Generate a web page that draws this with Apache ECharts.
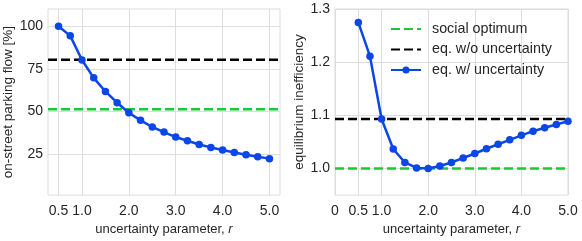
<!DOCTYPE html>
<html>
<head>
<meta charset="utf-8">
<script src="https://cdn.jsdelivr.net/npm/echarts@6/dist/echarts.min.js"></script>
<style>
html,body{margin:0;padding:0;background:#fff;}
#c{width:582px;height:241px;}
</style>
</head>
<body>
<div id="c"></div>
<script>
const r = [0.5,0.75,1.0,1.25,1.5,1.75,2.0,2.25,2.5,2.75,3.0,3.25,3.5,3.75,4.0,4.25,4.5,4.75,5.0];
const flowUncertain = [100,94.4,80.2,69.7,61.7,55.1,49.2,44.7,40.8,37.8,34.9,32.7,30.5,28.8,27.3,25.8,24.5,23.3,22.2];
const flowNoUncertain = 80.3;
const flowSocial = 51.2;
const ineffUncertain = [1.2748,1.2112,1.093,1.0366,1.0114,1.0012,1.0,1.0048,1.0114,1.0198,1.0282,1.0372,1.0456,1.054,1.0624,1.0702,1.0768,1.0828,1.0888];
const ineffNoUncertain = 1.093;
const ineffSocial = 1.0;
const leftXTicks = [0.5,1,2,3,4,5];
const rightXTicks = [0,0.5,1,2,3,4,5];
const leftYTicks = [25,50,75,100];
const rightYTicks = [1.0,1.1,1.2,1.3];
const names = ['social optimum','eq. w/o uncertainty','eq. w/ uncertainty'];

const LX = [0.275, 5.225], LY = [0.75, 110.2];
const RX = [0, 5], RY = [0.95, 1.3];

const FONT = 'Liberation Sans, Arial, sans-serif';
const gridColor = '#dddddd';
const textColor = '#262626';
const blue = '#0b47e6', green = '#1ac938', black = '#000000';

function xAxis(idx, ext, ticks) {
  return {
    type: 'value', gridIndex: idx, min: ext[0], max: ext[1],
    name: 'uncertainty parameter, {i|r}', nameLocation: 'middle', nameGap: 24,
    nameTextStyle: {fontFamily: FONT, fontSize: 13, color: textColor,
      rich: {i: {fontStyle: 'italic', fontFamily: FONT, fontSize: 13, color: textColor}}},
    axisLine: {show: false}, axisTick: {show: false, customValues: ticks},
    axisLabel: {customValues: ticks, fontFamily: FONT, fontSize: 14, color: textColor, margin: 9,
      formatter: v => (v === 0 ? '0' : v.toFixed(1)), hideOverlap: false},
    splitLine: {show: true, lineStyle: {color: gridColor, width: 1}}
  };
}
function yAxis(idx, ext, ticks, name, gap, fmt) {
  return {
    type: 'value', gridIndex: idx, min: ext[0], max: ext[1],
    name: name, nameLocation: 'middle', nameGap: gap, nameRotate: 90,
    nameTextStyle: {fontFamily: FONT, fontSize: 13.5, color: textColor},
    axisLine: {show: false}, axisTick: {show: false, customValues: ticks},
    axisLabel: {customValues: ticks, fontFamily: FONT, fontSize: 14, color: textColor, margin: 5,
      formatter: fmt, hideOverlap: false},
    splitLine: {show: true, lineStyle: {color: gridColor, width: 1}}
  };
}
function hline(name, xi, ext, y, color) {
  return {
    name: name, type: 'line', xAxisIndex: xi, yAxisIndex: xi,
    data: [[ext[0], y], [ext[1], y]], showSymbol: false, symbol: 'none',
    lineStyle: {color: color, width: 2.5, type: [9, 4]}, itemStyle: {color: color},
    silent: true, animation: false, z: 3
  };
}
function curve(name, xi, ys) {
  return {
    name: name, type: 'line', xAxisIndex: xi, yAxisIndex: xi,
    data: r.map((x, i) => [x, ys[i]]), symbol: 'circle', symbolSize: 7.5,
    lineStyle: {color: blue, width: 2.5}, itemStyle: {color: blue},
    clip: true, animation: false, z: 4
  };
}

const chart = echarts.init(document.getElementById('c'), null, {renderer: 'canvas'});
chart.setOption({
  animation: false,
  backgroundColor: '#fff',
  grid: [
    {left: 48, right: 302, top: 9, bottom: 38, show: true, borderColor: gridColor, borderWidth: 1},
    {left: 335, right: 14, top: 9, bottom: 38, show: true, borderColor: gridColor, borderWidth: 1}
  ],
  xAxis: [xAxis(0, LX, leftXTicks), xAxis(1, RX, rightXTicks)],
  yAxis: [
    yAxis(0, LY, leftYTicks, 'on-street parking flow [%]', 31, v => String(Math.round(v))),
    yAxis(1, RY, rightYTicks, 'equilibrium inefficiency', 22, v => v.toFixed(1))
  ],
  legend: {
    left: 385, top: 17, orient: 'vertical', itemWidth: 30, itemHeight: 9, itemGap: 6.5,
    data: [
      {name: names[0], itemStyle: {opacity: 0}},
      {name: names[1], itemStyle: {opacity: 0}},
      {name: names[2]}
    ],
    textStyle: {fontFamily: FONT, fontSize: 14.3, color: textColor, padding: [0,0,0,6]},
    backgroundColor: 'rgba(255,255,255,0)'
  },
  series: [
    hline(names[0], 0, LX, flowSocial, green),
    hline(names[1], 0, LX, flowNoUncertain, black),
    curve(names[2], 0, flowUncertain),
    hline(names[0], 1, RX, ineffSocial, green),
    hline(names[1], 1, RX, ineffNoUncertain, black),
    curve(names[2], 1, ineffUncertain)
  ]
});
</script>
</body>
</html>
